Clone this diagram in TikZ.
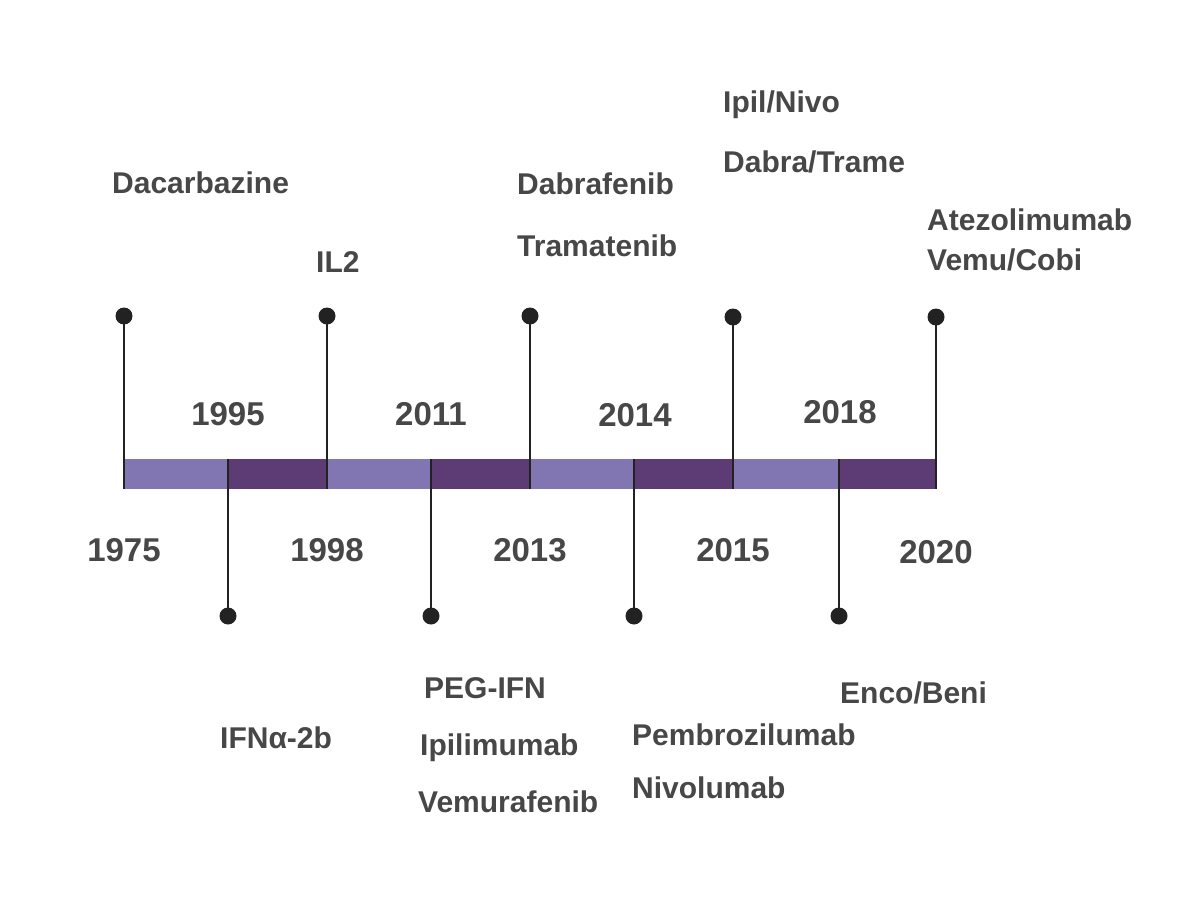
\documentclass[tikz,border=0pt]{standalone}
\usepackage{fontspec}
\setmainfont{Liberation Sans}
\definecolor{lightbar}{HTML}{8176B1}
\definecolor{darkbar}{HTML}{5D3B75}
\definecolor{ink}{HTML}{222222}
\definecolor{txt}{HTML}{474747}
\begin{document}
\begin{tikzpicture}[x=1pt,y=-1pt,
  seg/.style={minimum height=30pt, inner sep=0pt, outer sep=0pt},
  segl/.style={seg, fill=lightbar},
  segd/.style={seg, fill=darkbar},
  dot/.style={circle, fill=ink, minimum size=17pt, inner sep=0pt, outer sep=0pt},
  stem/.style={draw=ink, line width=2.6pt},
  lbl/.style={font=\bfseries\fontsize{30}{36}\selectfont, text=txt, inner sep=0pt},
  yr/.style={lbl, font=\bfseries\fontsize{33}{40}\selectfont, anchor=base},
  drug/.style={lbl, anchor=base west}]
\useasboundingbox[fill=white] (0,0) rectangle (1195,899);

% timeline bar, alternating light and dark segments
\node[segl, minimum width=104pt] (s1) at (176,474) {};
\node[segd, minimum width=99pt]  (s2) at (277.5,474) {};
\node[segl, minimum width=104pt] (s3) at (379,474) {};
\node[segd, minimum width=99pt]  (s4) at (480.5,474) {};
\node[segl, minimum width=104pt] (s5) at (582,474) {};
\node[segd, minimum width=99pt]  (s6) at (683.5,474) {};
\node[segl, minimum width=105pt] (s7) at (785.5,474) {};
\node[segd, minimum width=98pt]  (s8) at (887,474) {};

% markers above the bar
\node[dot] (u1) at (124,316) {};
\node[dot] (u2) at (327,316) {};
\node[dot] (u3) at (530,316) {};
\node[dot] (u4) at (733,317) {};
\node[dot] (u5) at (936,317) {};
% markers below the bar
\node[dot] (l1) at (228,616) {};
\node[dot] (l2) at (431,616) {};
\node[dot] (l3) at (634,616) {};
\node[dot] (l4) at (839,616) {};

% stems
\draw[stem] (u1.center) -- (u1 |- s1.south);
\draw[stem] (u2.center) -- (u2 |- s2.south);
\draw[stem] (u3.center) -- (u3 |- s4.south);
\draw[stem] (u4.center) -- (u4 |- s6.south);
\draw[stem] (u5.center) -- (u5 |- s8.south);
\draw[stem] (l1 |- s1.north) -- (l1.center);
\draw[stem] (l2 |- s3.north) -- (l2.center);
\draw[stem] (l3 |- s5.north) -- (l3.center);
\draw[stem] (l4 |- s7.north) -- (l4.center);

% years above the bar
\node[yr] (y1995) at (228,425) {1995};
\node[yr] (y2011) at (431,425) {2011};
\node[yr] (y2014) at (635,426) {2014};
\node[yr] (y2018) at (840,423) {2018};
% years below the bar
\node[yr] (y1975) at (124,561) {1975};
\node[yr] (y1998) at (327,561) {1998};
\node[yr] (y2013) at (530,561) {2013};
\node[yr] (y2015) at (733,561) {2015};
\node[yr] (y2020) at (936,563) {2020};

% treatments above
\node[drug] (dac) at (112,193) {Dacarbazine};
\node[drug] (il2) at (316,272) {IL2};
\node[drug] (dab) at (517,194) {Dabrafenib};
\node[drug] (tra) at (517,256) {Tramatenib};
\node[drug] (ipn) at (723,112) {Ipil/Nivo};
\node[drug] (dtr) at (723,172) {Dabra/Trame};
\node[drug] (ate) at (927,230) {Atezolimumab};
\node[drug] (vco) at (927,270) {Vemu/Cobi};
% treatments below
\node[drug] (ifn) at (220,748) {IFNα-2b};
\node[drug] (peg) at (424,698) {PEG-IFN};
\node[drug] (ipi) at (420,755) {Ipilimumab};
\node[drug] (vem) at (418,812) {Vemurafenib};
\node[drug] (pem) at (632,745) {Pembrozilumab};
\node[drug] (niv) at (632,798) {Nivolumab};
\node[drug] (enc) at (840,703) {Enco/Beni};
\end{tikzpicture}
\end{document}
